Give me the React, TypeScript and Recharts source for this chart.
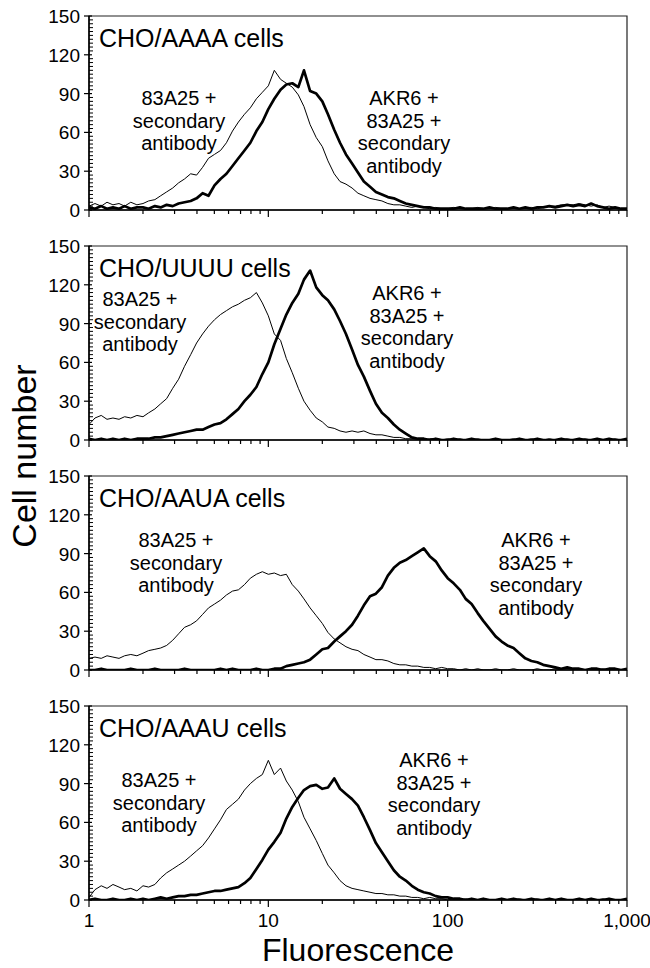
import React from 'react';
import { LineChart, Line, XAxis, YAxis, ReferenceArea } from 'recharts';

// Fluorescence channels (log spaced, 1 to 1000)
const fluor = [
  1, 1.08, 1.17, 1.26, 1.36, 1.47, 1.58, 1.71, 1.85, 2,
  2.15, 2.33, 2.51, 2.71, 2.93, 3.16, 3.41, 3.69, 3.98, 4.3,
  4.64, 5.01, 5.41, 5.84, 6.31, 6.81, 7.36, 7.94, 8.58, 9.26,
  10, 10.8, 11.7, 12.6, 13.6, 14.7, 15.8, 17.1, 18.5, 20,
  21.5, 23.3, 25.1, 27.1, 29.3, 31.6, 34.1, 36.9, 39.8, 43,
  46.4, 50.1, 54.1, 58.4, 63.1, 68.1, 73.6, 79.4, 85.8, 92.6,
  100, 108, 117, 126, 136, 147, 158, 171, 185, 200,
  215, 233, 251, 271, 293, 316, 341, 369, 398, 430,
  464, 501, 541, 584, 631, 681, 736, 794, 858, 926,
  1000,
];

// CHO/AAAA
const aaaaControl = [
  3, 5, 3, 6, 4, 5, 3, 6, 4, 5,
  7, 8, 11, 14, 17, 21, 24, 28, 27, 33,
  40, 43, 46, 52, 61, 68, 74, 79, 86, 91,
  96, 108, 101, 98, 95, 89, 80, 66, 56, 49,
  38, 28, 22, 20, 17, 13, 11, 9, 8, 7,
  5, 4, 4, 3, 2, 3, 2, 1, 2, 1,
  1, 2, 1, 1, 1, 2, 1, 1, 2, 1,
  1, 2, 1, 2, 2, 1, 2, 3, 3, 4,
  4, 4, 5, 4, 3, 4, 2, 3, 2, 1,
  1,
];
const aaaaAkr6 = [
  2, 1, 3, 1, 2, 1, 3, 1, 2, 2,
  1, 3, 2, 4, 3, 5, 6, 7, 9, 13,
  11, 19, 24, 28, 34, 40, 46, 52, 61, 68,
  78, 86, 93, 97, 98, 95, 108, 92, 90, 84,
  74, 62, 52, 43, 36, 29, 22, 18, 14, 12,
  10, 9, 7, 5, 4, 3, 2, 2, 1, 1,
  1, 1, 2, 1, 1, 1, 1, 2, 1, 1,
  1, 2, 1, 2, 1, 2, 2, 3, 2, 3,
  4, 3, 4, 3, 5, 3, 2, 1, 2, 1,
  1,
];

// CHO/UUUU
const uuuuControl = [
  12, 17, 19, 16, 17, 16, 18, 17, 19, 18,
  21, 24, 28, 32, 40, 47, 57, 66, 75, 82,
  88, 93, 97, 100, 103, 105, 108, 110, 114, 106,
  96, 82, 77, 63, 52, 40, 30, 23, 17, 14,
  10, 9, 7, 6, 7, 6, 7, 5, 4, 4,
  3, 2, 2, 1, 1, 1, 0, 1, 1, 0,
  1, 0, 1, 0, 0, 1, 0, 0, 1, 0,
  0, 1, 0, 0, 1, 0, 0, 1, 0, 0,
  1, 0, 0, 1, 0, 1, 0, 0, 1, 0,
  0,
];
const uuuuAkr6 = [
  1, 0, 1, 0, 1, 0, 1, 0, 1, 1,
  1, 2, 2, 3, 4, 5, 6, 7, 8, 8,
  10, 12, 13, 16, 20, 24, 30, 35, 41, 51,
  60, 74, 86, 97, 106, 113, 124, 131, 118, 112,
  108, 101, 92, 82, 70, 58, 49, 38, 28, 21,
  17, 12, 8, 5, 2, 1, 1, 0, 1, 0,
  0, 1, 0, 0, 1, 0, 0, 0, 1, 0,
  0, 0, 1, 0, 0, 1, 0, 0, 0, 1,
  0, 0, 1, 0, 0, 1, 0, 1, 0, 0,
  1,
];

// CHO/AAUA
const aauaControl = [
  9, 10, 9, 11, 10, 9, 11, 12, 11, 13,
  15, 16, 17, 19, 23, 28, 33, 35, 38, 43,
  48, 51, 54, 58, 61, 62, 66, 71, 74, 76,
  74, 75, 73, 74, 66, 61, 55, 48, 42, 36,
  29, 24, 21, 18, 16, 15, 12, 10, 8, 8,
  7, 5, 4, 4, 3, 3, 2, 2, 1, 2,
  1, 1, 0, 1, 0, 1, 0, 0, 1, 0,
  0, 1, 0, 0, 0, 1, 0, 0, 1, 0,
  0, 0, 1, 0, 0, 0, 1, 0, 0, 0,
  0,
];
const aauaAkr6 = [
  0, 0, 1, 0, 0, 0, 0, 1, 0, 0,
  0, 1, 0, 0, 0, 0, 1, 0, 0, 0,
  0, 0, 1, 0, 1, 0, 0, 0, 1, 0,
  0, 1, 1, 3, 4, 5, 6, 8, 12, 16,
  17, 22, 26, 30, 35, 42, 50, 57, 59, 64,
  73, 79, 83, 85, 88, 91, 94, 88, 84, 77,
  71, 67, 62, 55, 51, 44, 38, 32, 26, 22,
  19, 17, 13, 9, 7, 6, 4, 3, 2, 1,
  2, 1, 1, 0, 1, 1, 0, 1, 1, 0,
  1,
];

// CHO/AAAU
const aaauControl = [
  2, 8, 11, 9, 12, 10, 8, 9, 7, 11,
  10, 12, 17, 21, 24, 27, 30, 34, 38, 42,
  48, 55, 62, 70, 74, 78, 85, 90, 94, 97,
  108, 97, 102, 92, 85, 76, 64, 55, 46, 36,
  27, 21, 15, 11, 9, 8, 7, 6, 5, 5,
  4, 4, 3, 3, 2, 2, 1, 2, 1, 1,
  0, 1, 0, 1, 0, 0, 1, 0, 0, 1,
  0, 0, 1, 0, 0, 1, 0, 0, 0, 1,
  0, 0, 1, 0, 0, 0, 1, 0, 0, 0,
  0,
];
const aaauAkr6 = [
  0, 1, 0, 0, 1, 0, 0, 1, 0, 1,
  0, 1, 2, 1, 2, 3, 3, 4, 4, 5,
  6, 7, 7, 8, 9, 10, 13, 17, 24, 31,
  39, 45, 52, 63, 72, 79, 85, 88, 89, 86,
  87, 94, 86, 82, 78, 73, 64, 54, 44, 37,
  30, 23, 18, 15, 11, 8, 6, 5, 3, 2,
  2, 1, 1, 0, 1, 0, 1, 0, 0, 1,
  0, 1, 0, 0, 1, 0, 0, 1, 0, 1,
  0, 0, 1, 0, 1, 0, 0, 1, 0, 0,
  1,
];

const xTicks = [
  1, 2, 3, 4, 5, 6, 7, 8, 9,
  10, 20, 30, 40, 50, 60, 70, 80, 90,
  100, 200, 300, 400, 500, 600, 700, 800, 900,
  1000,
];
const xMajor = [1, 10, 100, 1000];
const xLabels = ['1', '10', '100', '1,000'];
const yTicks = [
  0, 3, 6, 9, 12, 15, 18, 21, 24, 27, 30, 33, 36, 39, 42, 45, 48, 51, 54, 57,
  60, 63, 66, 69, 72, 75, 78, 81, 84, 87, 90, 93, 96, 99, 102, 105, 108, 111,
  114, 117, 120, 123, 126, 129, 132, 135, 138, 141, 144, 147, 150,
];
const yMajor = [0, 30, 60, 90, 120, 150];

const panelTitles = ['CHO/AAAA cells', 'CHO/UUUU cells', 'CHO/AAUA cells', 'CHO/AAAU cells'];
const controlText = ['83A25 +', 'secondary', 'antibody'];
const akr6Text = ['AKR6 +', '83A25 +', 'secondary', 'antibody'];

const panels = [
  { control: aaaaControl, akr6: aaaaAkr6 },
  { control: uuuuControl, akr6: uuuuAkr6 },
  { control: aauaControl, akr6: aauaAkr6 },
  { control: aaauControl, akr6: aaauAkr6 },
];

const FONT = '"Liberation Sans", Arial, Helvetica, sans-serif';

// layout of annotation blocks: [left cx, left first-line center, right cx, right first-line center]
const annotPos = [
  [179, 82, 404, 82],
  [140, 53, 407, 47],
  [176, 64, 536, 64],
  [159, 74, 434, 54],
];

const PANEL_STEP = 230;
const PLOT_TOP = 16;
const LINE_GAP = 22.5;

const makeXTick = (showLabel: boolean) => (props: any) => {
  const { x, y, payload } = props;
  const v = payload.value;
  const mi = xMajor.indexOf(v);
  const major = mi >= 0;
  return (
    <g>
      <line x1={x} x2={x} y1={y} y2={y + (major ? 7 : 4)} stroke="#000" strokeWidth={1.2} />
      {showLabel && major && (
        <text x={x} y={y + 27} textAnchor="middle" fontSize={19} fontFamily={FONT} fill="#000">
          {xLabels[mi]}
        </text>
      )}
    </g>
  );
};

const YTick = (props: any) => {
  const { x, y, payload } = props;
  const v = payload.value;
  const major = yMajor.includes(v);
  return (
    <g>
      {major ? (
        <line x1={x - 5} x2={x + 3} y1={y} y2={y} stroke="#000" strokeWidth={1.2} />
      ) : (
        <line x1={x} x2={x + 4} y1={y} y2={y} stroke="#000" strokeWidth={1} />
      )}
      {major && (
        <text x={x - 9} y={y + 7} textAnchor="end" fontSize={19} fontFamily={FONT} fill="#000">
          {v}
        </text>
      )}
    </g>
  );
};

function Panel({ index }: { index: number }) {
  const last = index === panels.length - 1;
  const p = panels[index];
  const data = fluor.map((x, i) => ({ x, control: p.control[i], akr6: p.akr6[i] }));
  const height = last ? 278 : 230;
  const xH = height - PLOT_TOP - 194;
  return (
    <div style={{ position: 'absolute', left: 0, top: index * PANEL_STEP, width: 650, height }}>
      <LineChart width={650} height={height} data={data} margin={{ top: PLOT_TOP, right: 23, left: 0, bottom: 0 }}>
        <XAxis
          dataKey="x"
          type="number"
          scale="log"
          domain={[1, 1000]}
          allowDataOverflow
          ticks={xTicks}
          interval={0}
          tickSize={0}
          tickMargin={0}
          tickLine={false}
          tick={makeXTick(last)}
          axisLine={{ stroke: '#000', strokeWidth: 1.5 }}
          height={xH}
        />
        <YAxis
          type="number"
          domain={[0, 150]}
          allowDataOverflow
          ticks={yTicks}
          interval={0}
          tickSize={0}
          tickMargin={0}
          tickLine={false}
          tick={YTick}
          axisLine={{ stroke: '#000', strokeWidth: 1.5 }}
          width={89}
        />
        <ReferenceArea x1={1} x2={1000} y1={0} y2={150} fill="none" fillOpacity={0} stroke="#222" strokeWidth={1.2} ifOverflow="visible" />
        <Line
          dataKey="control"
          type="linear"
          stroke="#000"
          strokeWidth={1}
          dot={false}
          activeDot={false}
          isAnimationActive={false}
        />
        <Line
          dataKey="akr6"
          type="linear"
          stroke="#000"
          strokeWidth={2.7}
          strokeLinejoin="round"
          dot={false}
          activeDot={false}
          isAnimationActive={false}
        />
      </LineChart>
    </div>
  );
}

export default function App() {
  return (
    <div style={{ position: 'absolute', left: 0, top: 0, width: 650, height: 968, background: '#fff' }}>
      {panels.map((_, i) => (
        <Panel key={i} index={i} />
      ))}
      <svg
        width={650}
        height={968}
        style={{ position: 'absolute', left: 0, top: 0, pointerEvents: 'none' }}
        fontFamily={FONT}
      >
        {panelTitles.map((t, i) => {
          const top = i * PANEL_STEP + PLOT_TOP;
          const [lcx, lcy, rcx, rcy] = annotPos[i];
          return (
            <g key={i}>
              <text x={99} y={top + 31} fontSize={25} fill="#000">
                {t}
              </text>
              {controlText.map((s, j) => (
                <text key={'c' + j} x={lcx} y={top + lcy + j * LINE_GAP + 7} fontSize={20} textAnchor="middle" fill="#000">
                  {s}
                </text>
              ))}
              {akr6Text.map((s, j) => (
                <text key={'a' + j} x={rcx} y={top + rcy + j * LINE_GAP + 7} fontSize={20} textAnchor="middle" fill="#000">
                  {s}
                </text>
              ))}
            </g>
          );
        })}
        <text x={358} y={961} fontSize={32} textAnchor="middle" fill="#000">
          Fluorescence
        </text>
        <text x={36} y={456} fontSize={34} textAnchor="middle" fill="#000" transform="rotate(-90 36 456)">
          Cell number
        </text>
      </svg>
    </div>
  );
}
